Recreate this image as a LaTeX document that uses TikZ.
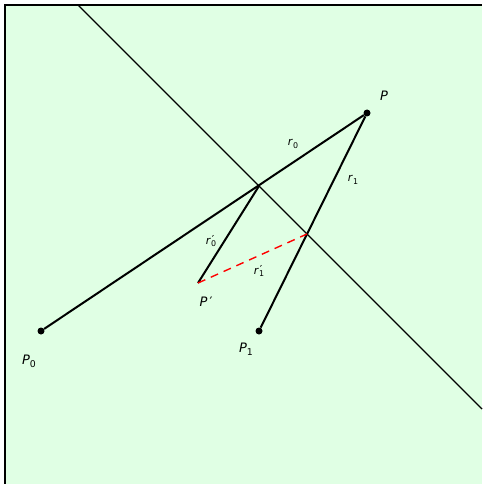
\documentclass[tikz,border=0pt]{standalone}
\usepackage{fontspec}
\setmainfont{DejaVu Sans}
\usetikzlibrary{positioning}
\definecolor{bgc}{HTML}{E0FFE4}
\newcommand{\lbl}[2]{\textit{#1}\raisebox{-0.4ex}{\scalebox{0.72}{#2}}}
\newcommand{\plbl}[2]{\textit{#1}\makebox[0pt][l]{\kern0.08em\raisebox{0.1ex}{′}}\raisebox{-0.4ex}{\scalebox{0.72}{#2}}}

\begin{document}
\begin{tikzpicture}[x=1pt,y=-1pt,
  dot/.style={circle,fill=black,inner sep=0pt,minimum size=7pt},
  ray/.style={line width=2pt},
  lab/.style={font=\fontsize{13}{13}\selectfont,inner sep=0pt},
  rlab/.style={font=\fontsize{11}{11}\selectfont,inner sep=0pt}]
\useasboundingbox (0,0) rectangle (482,484);
\fill[bgc] (5,5) rectangle (482,484);
\draw[line width=2pt] (5,484) -- (5,5) -- (482,5);
% mirror line
\draw[line width=1.4pt] (78,5) -- (482,409);
\node[dot] (P) at (367,113) {};
\node[dot] (P0) at (41,331) {};
\node[dot] (P1) at (259,331) {};
\coordinate (Pp) at (198,283);
\coordinate (A) at (259,186);
\coordinate (B) at (307,234);
\draw[ray] (P0) -- (P);
\draw[ray] (P1) -- (P);
\draw[ray] (A) -- (Pp);
\draw[red,dashed,line width=1.4pt,dash pattern=on 8pt off 6pt] (Pp) -- (B);
% labels
\node[lab] at (384,96) {\textit{P}};
\node[lab] at (29,361) {\lbl{P}{0}};
\node[lab] at (246,349) {\lbl{P}{1}};
\node[lab] at (206,302) {\textit{P}\,′};
\node[rlab] at (293,144) {\lbl{r}{0}};
\node[rlab] at (353,180) {\lbl{r}{1}};
\node[rlab] at (211,241) {\plbl{r}{0}};
\node[rlab] at (259,271) {\plbl{r}{1}};
\end{tikzpicture}
\end{document}
